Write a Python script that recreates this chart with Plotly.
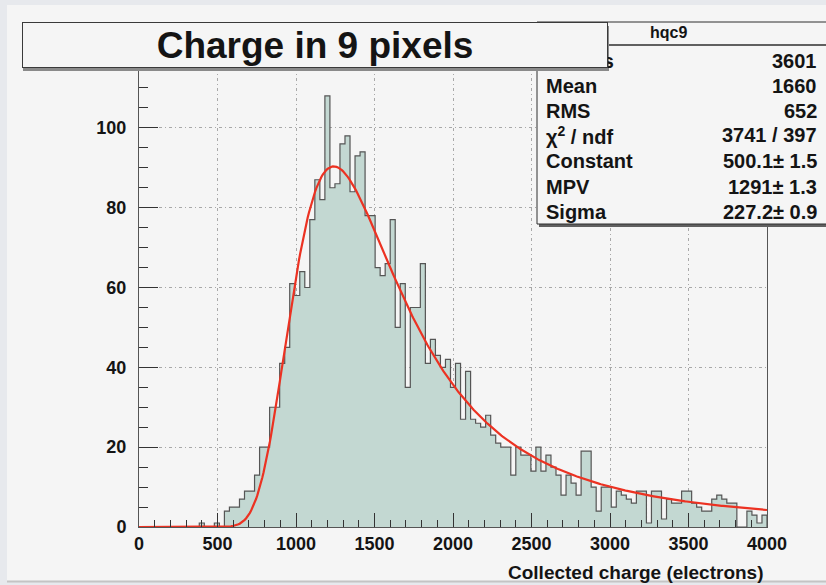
import numpy as np
import plotly.graph_objects as go

# ---- data -------------------------------------------------------------
X_MIN, X_MAX = 0, 4000          # histogram range (electrons)
counts = [
    0, 0, 0, 0, 0, 0, 0, 0, 0, 0,
    0, 0, 1, 0, 0, 1, 0, 4, 5, 5,
    7, 9, 9, 13, 20, 20, 30, 30, 41, 45,
    61, 58, 64, 60, 77, 87, 82, 108, 85, 86,
    96, 98, 84, 93, 94, 78, 78, 65, 63, 66,
    77, 50, 61, 35, 55, 55, 66, 41, 47, 43,
    40, 42, 35, 41, 27, 39, 27, 26, 25, 28,
    23, 21, 20, 20, 13, 20, 18, 18, 14, 20,
    14, 18, 15, 13, 8, 13, 11, 8, 19, 19,
    10, 4, 10, 10, 5, 9, 8, 7, 6, 9,
    9, 1, 9, 9, 2, 7, 6, 6, 9, 9,
    6, 5, 4, 4, 7, 8, 7, 6, 6, 0,
    0, 4, 3, 1, 3,
]

hist_name = "hqc9"
n_entries = 3601
mean_val = 1660
rms_val = 652
chi2, ndf = 3741, 397
fit_constant, fit_constant_err = 500.1, 1.5
fit_mpv, fit_mpv_err = 1291, 1.3
fit_sigma, fit_sigma_err = 227.2, 0.9

x_ticks = [0, 500, 1000, 1500, 2000, 2500, 3000, 3500, 4000]
y_ticks = [0, 20, 40, 60, 80, 100]


# ---- Landau fit function ---------------------------------------------
def landau_std(lam):
    """Standard Landau density, p(l) = 1/pi * int_0^inf exp(-pi t/2) cos(t ln t + l t) dt."""
    t = np.linspace(0.0, 40.0, 40001)
    tlt = np.zeros_like(t)
    tlt[1:] = t[1:] * np.log(t[1:])
    damp = np.exp(-np.pi * t / 2.0)
    out = np.empty(len(lam))
    for i, l in enumerate(lam):
        out[i] = np.trapezoid(damp * np.cos(tlt + l * t), t) / np.pi
    return np.clip(out, 0.0, None)


x_fit = np.linspace(X_MIN, X_MAX, 500)
y_fit = fit_constant * landau_std((x_fit - fit_mpv) / fit_sigma)

# ---- histogram as a filled step outline -------------------------------
edges = np.linspace(X_MIN, X_MAX, len(counts) + 1)
x_step = list(edges[:-1]) + [edges[-1], edges[-1]]
y_step = list(counts) + [counts[-1], 0]

# ---- page geometry -----------------------------------------------------
W, H = 826, 585
ML, MR, MT, MB = 139, 59, 68, 58
PW, PH = W - ML - MR, H - MT - MB


def px(x):
    return (x - ML) / PW


def py(y):
    return (H - MB - y) / PH


FONT = "Liberation Sans"
INK = "#141414"
CANVAS = "#f5f5f5"

fig = go.Figure()
fig.add_trace(go.Scatter(
    x=x_step, y=y_step, mode="lines",
    line=dict(shape="hv", color="#555555", width=1.2),
    fill="tozeroy", fillcolor="#c3d8d2",
    hoverinfo="skip", showlegend=False,
))
fig.add_trace(go.Scatter(
    x=x_fit, y=y_fit, mode="lines",
    line=dict(color="#ec3222", width=2.2),
    hoverinfo="skip", showlegend=False,
))

grid_dash = "3px,3px,1px,3px"
fig.update_xaxes(
    range=[X_MIN, X_MAX], tickvals=x_ticks, ticktext=[str(v) for v in x_ticks],
    ticks="inside", ticklen=14, tickwidth=1, tickcolor="#333",
    showline=True, linecolor="#555", linewidth=1, mirror=True,
    showgrid=True, gridcolor="#a8a8a8", gridwidth=1, griddash=grid_dash,
    zeroline=False,
    minor=dict(dtick=100, ticks="inside", ticklen=7, tickcolor="#333", showgrid=False),
    tickfont=dict(family=FONT, size=18, color=INK, weight="bold"),
)
fig.update_yaxes(
    range=[0, 115], tickvals=y_ticks, ticktext=[str(v) for v in y_ticks],
    ticks="inside", ticklen=19, tickwidth=1, tickcolor="#333",
    showline=True, linecolor="#555", linewidth=1, mirror=True,
    showgrid=True, gridcolor="#a8a8a8", gridwidth=1, griddash=grid_dash,
    zeroline=False,
    minor=dict(dtick=5, ticks="inside", ticklen=9, tickcolor="#333", showgrid=False),
    tickfont=dict(family=FONT, size=18, color=INK, weight="bold"),
    ticklabelstandoff=8,
)

shapes = [
    # canvas area
    dict(type="rect", xref="paper", yref="paper", layer="below",
         x0=px(7), x1=px(W + 4), y0=py(581), y1=py(5),
         fillcolor=CANVAS, line=dict(width=0)),
    dict(type="line", xref="paper", yref="paper", layer="below",
         x0=px(7), x1=px(W + 4), y0=py(581.5), y1=py(581.5),
         line=dict(color="#c4c4c4", width=2)),
    # statistics box with shadow
    dict(type="rect", xref="paper", yref="paper", layer="above",
         x0=px(539), x1=px(W + 6), y0=py(227), y1=py(24),
         fillcolor="#606060", line=dict(width=0)),
    dict(type="rect", xref="paper", yref="paper", layer="above",
         x0=px(537), x1=px(W + 6), y0=py(224), y1=py(22),
         fillcolor=CANVAS, line=dict(color="#2e2e2e", width=1)),
    dict(type="line", xref="paper", yref="paper", layer="above",
         x0=px(608), x1=px(W + 6), y0=py(45), y1=py(45),
         line=dict(color="#2e2e2e", width=1.5)),
    # drop shadow of the title box
    dict(type="rect", xref="paper", yref="paper", layer="above",
         x0=px(23), x1=px(609), y0=py(71), y1=py(26),
         fillcolor="#8a8a8a", line=dict(width=0)),
]

pm = "\u00b1"
stat_rows = [
    ("Entries", f"{n_entries}"),
    ("Mean", f"{mean_val}"),
    ("RMS", f"{rms_val}"),
    ("\u03c7<sup>2</sup> / ndf", f"{chi2} / {ndf}"),
    ("Constant", f"{fit_constant:.1f}{pm} {fit_constant_err:.1f}"),
    ("MPV", f"{fit_mpv}{pm} {fit_mpv_err:.1f}"),
    ("Sigma", f"{fit_sigma:.1f}{pm} {fit_sigma_err:.1f}"),
]
row_y = [61, 86, 111, 135, 161, 187, 212]

annotations = []
for (lab, val), yy in zip(stat_rows, row_y):
    annotations.append(dict(
        xref="paper", yref="paper", x=px(544), y=py(yy), xanchor="left", yanchor="middle",
        text=f"<b>{lab}</b>", showarrow=False,
        font=dict(family=FONT, size=20, color=INK)))
    annotations.append(dict(
        xref="paper", yref="paper", x=px(819), y=py(yy), xanchor="right", yanchor="middle",
        text=f"<b>{val}</b>", showarrow=False,
        font=dict(family=FONT, size=20, color=INK)))

annotations.append(dict(
    xref="paper", yref="paper", x=px(668), y=py(33), xanchor="center", yanchor="middle",
    text=f"<b>{hist_name}</b>", showarrow=False,
    font=dict(family=FONT, size=16, color=INK)))

# title box, drawn over the stats label underneath
annotations.append(dict(
    xref="paper", yref="paper", x=px(315), y=py(45), xanchor="center", yanchor="middle",
    text="<b>Charge in 9 pixels</b>", showarrow=False, width=584, height=44, borderpad=0,
    bgcolor=CANVAS, bordercolor="#3a3a3a", borderwidth=1,
    font=dict(family=FONT, size=37, color=INK)))

# x-axis title
annotations.append(dict(
    xref="paper", yref="paper", x=px(766), y=py(572), xanchor="right", yanchor="middle",
    text="<b>Collected charge (electrons)</b>", showarrow=False,
    font=dict(family=FONT, size=19, color=INK)))

fig.update_layout(
    width=W, height=H,
    margin=dict(l=ML, r=MR, t=MT, b=MB, pad=0),
    paper_bgcolor="#e7e9ed", plot_bgcolor=CANVAS,
    shapes=shapes, annotations=annotations,
    showlegend=False,
)

fig.write_html("out.html")
